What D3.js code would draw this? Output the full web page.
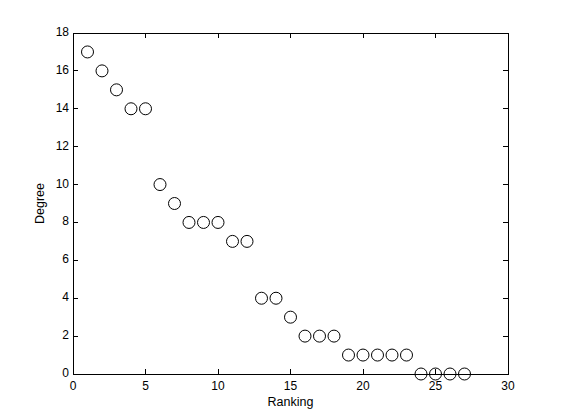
<!DOCTYPE html>
<html><head><meta charset="utf-8">
<script src="https://cdn.jsdelivr.net/npm/d3@7"></script>
<style>body{margin:0;background:#fff}svg{display:block}text{font-family:"Liberation Sans",Arial,sans-serif;font-size:12px;fill:#000}</style>
</head><body>
<svg id="c" width="561" height="420"></svg>
<script>
const ranking = [1,2,3,4,5,6,7,8,9,10,11,12,13,14,15,16,17,18,19,20,21,22,23,24,25,26,27];
const degree  = [17,16,15,14,14,10,9,8,8,8,7,7,4,4,3,2,2,2,1,1,1,1,1,0,0,0,0];
const xTicks = [0,5,10,15,20,25,30];
const yTicks = [0,2,4,6,8,10,12,14,16,18];

const L=73, R=508, T=33, B=374;
const svg = d3.select('#c');
const x = d3.scaleLinear().domain([0,30]).range([L,R]);
const y = d3.scaleLinear().domain([0,18]).range([B,T]);
const tl = 5;

svg.append('rect').attr('x',L).attr('y',T).attr('width',R-L).attr('height',B-T)
  .attr('fill','#fff').attr('stroke','#000').attr('stroke-width',1).attr('shape-rendering','crispEdges');

const g = svg.append('g').attr('shape-rendering','crispEdges').attr('stroke','#000');
xTicks.forEach(v=>{
  g.append('line').attr('x1',x(v)).attr('x2',x(v)).attr('y1',B).attr('y2',B-tl);
  g.append('line').attr('x1',x(v)).attr('x2',x(v)).attr('y1',T).attr('y2',T+tl);
});
yTicks.forEach(v=>{
  g.append('line').attr('x1',L).attr('x2',L+tl).attr('y1',y(v)).attr('y2',y(v));
  g.append('line').attr('x1',R).attr('x2',R-tl).attr('y1',y(v)).attr('y2',y(v));
});
svg.selectAll('.xt').data(xTicks).enter().append('text')
  .attr('x',d=>x(d)).attr('y',B+16).attr('text-anchor','middle').text(d=>d);
svg.selectAll('.yt').data(yTicks).enter().append('text')
  .attr('x',L-4).attr('y',d=>y(d)+3).attr('text-anchor','end').text(d=>d);

svg.append('text').attr('x',(L+R)/2).attr('y',406).attr('text-anchor','middle').style('font-size','12.5px').text('Ranking');
svg.append('text').attr('transform',`translate(44,${(T+B)/2}) rotate(-90)`).attr('text-anchor','middle').style('font-size','12.5px').text('Degree');

svg.append('g').selectAll('circle').data(ranking.map((r,i)=>[r,degree[i]])).enter().append('circle')
  .attr('cx',d=>x(d[0])).attr('cy',d=>y(d[1])).attr('r',6)
  .attr('fill','none').attr('stroke','#000').attr('stroke-width',1);
</script>
</body></html>
